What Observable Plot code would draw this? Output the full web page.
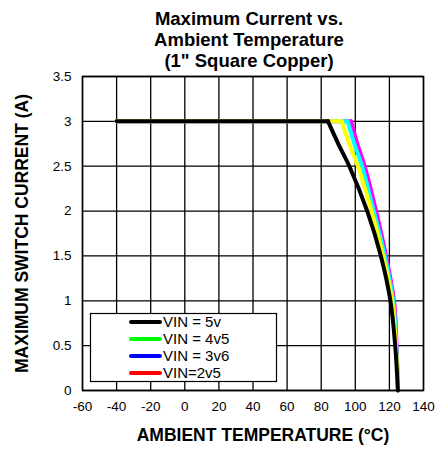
<!DOCTYPE html>
<html>
<head>
<meta charset="utf-8">
<script src="https://cdn.jsdelivr.net/npm/d3@7"></script>
<script src="https://cdn.jsdelivr.net/npm/@observablehq/plot@0.6"></script>
<style>
  html, body { margin: 0; padding: 0; background: #fff; }
  #title {
    font-family: "Liberation Sans", Arial, sans-serif;
    font-weight: bold; font-size: 18.5px; line-height: 21px;
    text-align: center; padding-left: 58px; width: 382px;
    padding-top: 8px; height: 60px; color: #000;
  }
</style>
</head>
<body>
<div id="title">Maximum Current vs.<br>Ambient Temperature<br>(1" Square Copper)</div>
<div id="chart"></div>
<script>
// Tick values
const xTicks = [-60, -40, -20, 0, 20, 40, 60, 80, 100, 120, 140];
const yTicks = [0, 0.5, 1, 1.5, 2, 2.5, 3, 3.5];

// Series: ambient temperature (°C) vs maximum switch current (A)
const current5v  = [3, 3, 2.73, 2.5, 2.0, 1.5, 1.0, 0.5, 0];
const temp5v     = [-40, 84, 90.5, 96.5, 107, 115, 120.6, 123.4, 125];

const current4v5 = [3, 3, 2.73, 2.5, 2.0, 1.5, 1.0, 0.5, 0];
const temp4v5    = [-40, 92, 96.8, 101.5, 109.5, 116.3, 121.6, 123.8, 125];

const current3v6 = [3, 3, 2.73, 2.5, 2.0, 1.5, 1.0, 0.5, 0];
const temp3v6    = [-40, 95.5, 99.8, 104, 110.8, 117.3, 122.2, 124, 125];

const current2v5 = [3, 3, 2.73, 2.5, 2.0, 1.5, 1.0, 0.5, 0];
const temp2v5    = [-40, 97.5, 101.5, 105.5, 112.2, 118, 122.7, 124.2, 125];

// Legend labels and colours
const legendLabels = ["VIN = 5v", "VIN = 4v5", "VIN = 3v6", "VIN=2v5"];
const legendColors = ["#000000", "#00ff00", "#0000ff", "#ff0000"];
const lineColors   = ["#000000", "#ffff00", "#00ffff", "#ff00ff"];

const series = [
  {name: legendLabels[3], t: temp2v5, c: current2v5, color: lineColors[3]},
  {name: legendLabels[2], t: temp3v6, c: current3v6, color: lineColors[2]},
  {name: legendLabels[1], t: temp4v5, c: current4v5, color: lineColors[1]},
  {name: legendLabels[0], t: temp5v,  c: current5v,  color: lineColors[0]}
];

const lineMarks = series.flatMap(s => {
  const pts = s.t.map((t, i) => ({t, c: s.c[i]}));
  const opts = {x: "t", y: "c", stroke: s.color, strokeWidth: 4, strokeLinejoin: "round", strokeLinecap: "round"};
  return [
    Plot.line(pts.slice(0, 2), opts),                                // flat plateau
    Plot.line(pts.slice(1), {...opts, curve: "catmull-rom"})          // derating curve
  ];
});

const font = "'Liberation Sans', Arial, sans-serif";

const chart = Plot.plot({
  width: 440,
  height: 382,
  marginLeft: 82,
  marginRight: 17,
  marginTop: 8,
  marginBottom: 60,
  x: {domain: [-60, 140], label: null},
  y: {domain: [0, 3.5], label: null},
  style: {fontFamily: font, fontSize: "13px", color: "#000", background: "#fff", overflow: "visible"},
  marks: [
    Plot.gridX(xTicks, {stroke: "#000", strokeOpacity: 1, strokeWidth: 1.3}),
    Plot.gridY(yTicks, {stroke: "#000", strokeOpacity: 1, strokeWidth: 1.3}),
    Plot.axisX(xTicks, {tickSize: 0, tickPadding: 11, tickFormat: d => String(d), label: null, fontSize: 13.5}),
    Plot.axisY(yTicks, {tickSize: 0, tickPadding: 11, tickFormat: d => String(d), label: null, fontSize: 13.5}),
    ...lineMarks,
    Plot.frame({stroke: "#000", strokeWidth: 1.5}),
    Plot.text(["AMBIENT TEMPERATURE (°C)"], {frameAnchor: "bottom", dx: 10, dy: 50, fontWeight: "bold", fontSize: 17.5}),
    Plot.text(["MAXIMUM SWITCH CURRENT (A)"], {frameAnchor: "left", textAnchor: "middle", rotate: -90, dx: -60, fontWeight: "bold", fontSize: 17.5})
  ]
});

document.getElementById("chart").appendChild(chart);

// Legend box inside the plot area
const svg = d3.select(chart);
const lg = svg.append("g").attr("transform", "translate(90,245)");
lg.append("rect").attr("x", 0.5).attr("y", 0.5).attr("width", 186).attr("height", 68)
  .attr("fill", "#fff").attr("stroke", "#000").attr("stroke-width", 1.2);
legendLabels.forEach((lab, i) => {
  const yy = 9 + i * 17;
  lg.append("line").attr("x1", 41).attr("x2", 70).attr("y1", yy).attr("y2", yy)
    .attr("stroke", legendColors[i]).attr("stroke-width", 4).attr("stroke-linecap", "round");
  lg.append("text").attr("x", 73).attr("y", yy).attr("dy", "0.36em")
    .attr("text-anchor", "start")
    .attr("font-family", font).attr("font-size", 15).attr("fill", "#000").text(lab);
});
</script>
</body>
</html>
